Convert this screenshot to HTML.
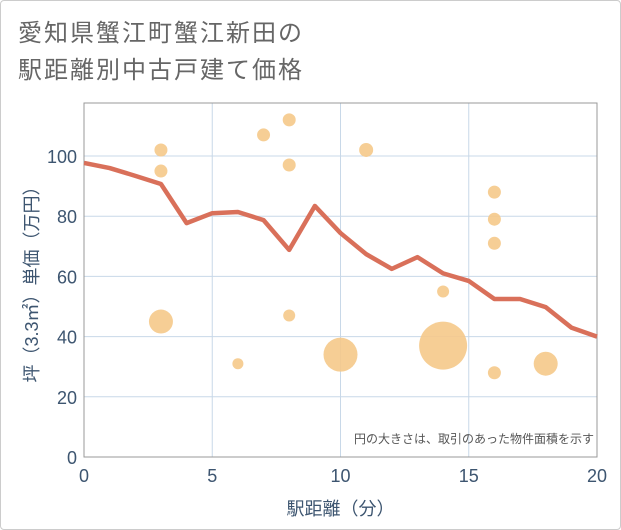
<!DOCTYPE html>
<html><head><meta charset="utf-8"><style>
body{margin:0;background:#fff;}
#card{position:absolute;left:0;top:0;width:619px;height:528px;border:1px solid #ccc;border-radius:4px;background:#fff;font-family:"Liberation Sans","Noto Sans CJK JP",sans-serif;}
</style></head><body>
<div id="card">
<svg id="chart" width="621" height="530" style="position:absolute;left:-1px;top:-1px"></svg>
</div>
<script>
const avgX=[0,1,2,3,4,5,6,7,8,9,10,11,12,13,14,15,16,17,18,19,20];
const avgY=[97.7,96,93.4,90.7,77.7,81,81.4,78.7,68.8,83.4,74.4,67.4,62.5,66.4,61,58.5,52.5,52.5,49.8,43,40];
const bubX=[3,3,3,6,7,8,8,8,10,11,14,14,16,16,16,16,18];
const bubY=[102,95,45,31,107,112,97,47,34,102,37,55,88,79,71,28,31];
const bubR=[6.5,6.5,12,5.5,6.5,6.5,6.5,6,17,7,24,6,6.5,6.5,6.5,6.5,12];
const xTicks=[0,5,10,15,20];
const yTicks=[0,20,40,60,80,100];
const NS="http://www.w3.org/2000/svg";
const svg=document.getElementById('chart');
const L=84,R=597,T=103,B=457;
const sx=v=>L+(v-0)/20*(R-L);
const sy=v=>B-v/100*(B-156);
function el(tag,attrs,parent){const e=document.createElementNS(NS,tag);for(const k in attrs)e.setAttribute(k,attrs[k]);(parent||svg).appendChild(e);return e;}
function txt(s,attrs){const e=el('text',attrs);e.textContent=s;return e;}
// title
const t1=txt('愛知県蟹江町蟹江新田の',{x:18,y:41,'font-size':24,'letter-spacing':2,fill:'#666'});


const t2=txt('駅距離別中古戸建て価格',{x:18,y:78,'font-size':24,'letter-spacing':2,fill:'#666'});


// grid
xTicks.forEach(v=>{if(v>0&&v<20){const g=el('line',{x1:sx(v),x2:sx(v),y1:T,y2:B,stroke:'#c8d8e8','stroke-width':1});

}
const lb=txt(String(v),{x:sx(v),y:482,'font-size':18,fill:'#3d5570','text-anchor':'middle'});

});
yTicks.forEach(v=>{if(v>0){const g=el('line',{x1:L,x2:R,y1:sy(v),y2:sy(v),stroke:'#c8d8e8','stroke-width':1});

}
const lb=txt(String(v),{x:77,y:sy(v)+7,'font-size':18,fill:'#3d5570','text-anchor':'end'});

});
const fr=el('rect',{x:L,y:T,width:R-L,height:B-T,fill:'none',stroke:'#999','stroke-width':1});


// bubbles
bubX.forEach((x,i)=>{const c=el('circle',{cx:sx(x),cy:sy(bubY[i]),r:bubR[i],fill:'#f5c98a','fill-opacity':0.9});

});
// line
const p=el('polyline',{points:avgX.map((x,i)=>sx(x)+','+sy(avgY[i])).join(' '),fill:'none',stroke:'#d9705a','stroke-width':4.5,'stroke-linejoin':'round'});


const n=txt('円の大きさは、取引のあった物件面積を示す',{x:594,y:443,'font-size':12,fill:'#555','text-anchor':'end'});


const xt=txt('駅距離（分）',{x:sx(10),y:515,'font-size':18,fill:'#3d5570','text-anchor':'middle'});


const yt=txt('坪（3.3㎡）単価（万円）',{x:0,y:0,'font-size':18,fill:'#3d5570','text-anchor':'middle',transform:'translate(38,'+((T+B)/2)+') rotate(-90)'});


</script>
</body></html>
